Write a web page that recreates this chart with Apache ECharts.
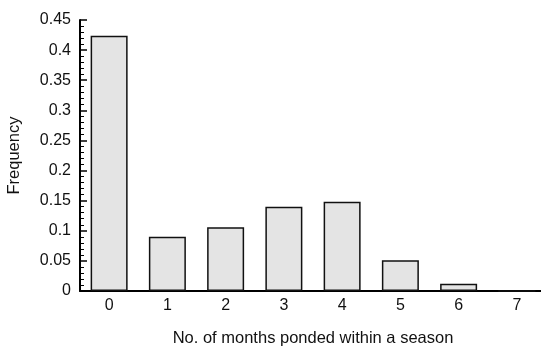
<!DOCTYPE html>
<html>
<head>
<meta charset="utf-8">
<script src="https://cdn.jsdelivr.net/npm/echarts@6/dist/echarts.min.js"></script>
<style>html,body{margin:0;padding:0;background:#fff;}#c{width:541px;height:348px;}</style>
</head>
<body>
<div id="c"></div>
<script>
var categories = ['0', '1', '2', '3', '4', '5', '6', '7'];
var frequency = [0.424, 0.090, 0.106, 0.140, 0.148, 0.051, 0.012, 0];
var xName = 'No. of months ponded within a season';
var yName = 'Frequency';

var FONT = '"Liberation Sans", Arial, Helvetica, sans-serif';
var chart = echarts.init(document.getElementById('c'), null, {renderer: 'canvas'});
chart.setOption({
  animation: false,
  backgroundColor: '#fff',
  grid: {left: 80, top: 20, bottom: 57, right: -5, containLabel: false, outerBoundsMode: 'none'},
  xAxis: {
    type: 'category',
    data: categories,
    name: xName,
    nameLocation: 'middle',
    nameGap: 39,
    nameTextStyle: {fontFamily: FONT, fontSize: 16.5, color: '#111'},
    axisLine: {lineStyle: {color: '#000', width: 2}},
    axisTick: {alignWithLabel: true, inside: false, length: 6, lineStyle: {color: '#000', width: 1.5}},
    axisLabel: {fontFamily: FONT, fontSize: 16, color: '#111', margin: 7},
    splitLine: {show: false}
  },
  yAxis: {
    type: 'value',
    min: 0, max: 0.45, interval: 0.05,
    name: yName,
    nameLocation: 'middle',
    nameGap: 57,
    nameTextStyle: {fontFamily: FONT, fontSize: 16.5, color: '#111'},
    axisLine: {show: true, lineStyle: {color: '#000', width: 2}},
    axisTick: {show: true, inside: true, length: 7, lineStyle: {color: '#000', width: 1.5}},
    minorTick: {show: true, splitNumber: 5, length: 4, lineStyle: {color: '#000', width: 1}},
    axisLabel: {fontFamily: FONT, fontSize: 16, color: '#111', margin: 9,
      formatter: function (v) { return String(Math.round(v * 100) / 100); }},
    splitLine: {show: false}
  },
  series: [{
    type: 'bar',
    data: frequency,
    barWidth: 37,
    itemStyle: {color: '#e4e4e4', borderColor: '#111', borderWidth: 1.5}
  }]
});
</script>
</body>
</html>
